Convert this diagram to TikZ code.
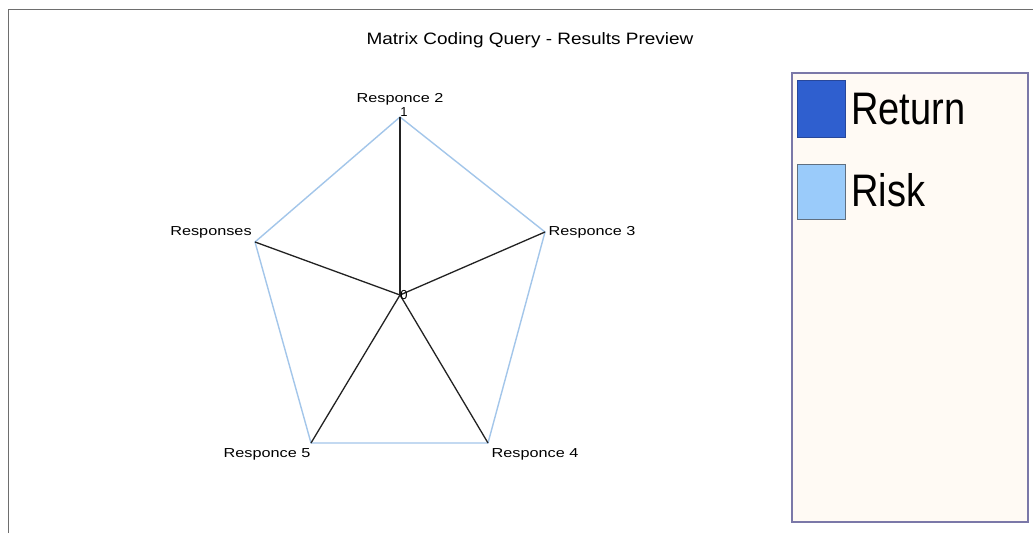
\documentclass[tikz,border=0pt]{standalone}
\usepackage{fontspec}
\setmainfont{Liberation Sans}
\definecolor{framegray}{HTML}{6E6E6E}
\definecolor{pentblue}{HTML}{A3C6EA}
\definecolor{legfill}{HTML}{FFFAF4}
\definecolor{legborder}{HTML}{7B78A8}
\definecolor{retfill}{HTML}{2F5FCF}
\definecolor{retborder}{HTML}{28479A}
\definecolor{riskfill}{HTML}{9ACBFA}
\definecolor{riskborder}{HTML}{5F6F80}
\definecolor{spokegray}{HTML}{222222}
\tikzset{
  axislabel/.style={font=\fontsize{13}{15}\selectfont, inner sep=0pt, text=black},
  ticklabel/.style={font=\fontsize{13}{15}\selectfont, inner sep=0pt},
  spoke/.style={draw=spokegray, line width=1.3pt},
  pent/.style={draw=pentblue, line width=1.4pt},
  legtext/.style={font=\fontsize{38}{44}\selectfont, inner sep=0pt, anchor=west},
}
\newcommand{\wide}[1]{\scalebox{1.25}[1]{#1}}
\begin{document}
\begin{tikzpicture}[x=1pt,y=1pt]
\useasboundingbox (0,0) rectangle (1033,533);
\fill[white] (0,0) rectangle (1033,533);
% frame
\draw[framegray, line width=1.8pt] (8.5,0) -- (8.5,523.5) -- (1033,523.5);
% title
\node[font=\fontsize{16.5}{19}\selectfont, inner sep=0pt] (title) at (530,493) {\scalebox{1.15}[1]{Matrix Coding Query - Results Preview}};
% radar
\coordinate (c) at (400,238);
\coordinate (v1) at (400,416);
\coordinate (v2) at (545,301);
\coordinate (v3) at (488,90);
\coordinate (v4) at (311,90);
\coordinate (v5) at (255,291);
\draw[pent] (v1) -- (v2) -- (v3) -- (v4) -- (v5) -- cycle;
\foreach \v in {v1,v2,v3,v4,v5} \draw[spoke] (c) -- (\v);
\node[axislabel] (l1) at (400,434) {\wide{Responce 2}};
\node[axislabel] (l2) at (592,301) {\wide{Responce 3}};
\node[axislabel] (l3) at (535,79) {\wide{Responce 4}};
\node[axislabel] (l4) at (267,79) {\wide{Responce 5}};
\node[axislabel] (l5) at (211,301) {\wide{Responses}};
\node[ticklabel] (t1) at (404,421) {1};
\node[ticklabel] (t0) at (404,238) {0};
% legend
\draw[legborder, fill=legfill, line width=1.5pt] (792,11) rectangle (1028,460);
\node[draw=retborder, fill=retfill, line width=1pt, minimum width=48pt, minimum height=57pt, inner sep=0pt] (sret) at (821,423.5) {};
\node[draw=riskborder, fill=riskfill, line width=1pt, minimum width=48pt, minimum height=55pt, inner sep=0pt] (srisk) at (821,340.5) {};
\node[legtext] (tret) at (851,424) {\scalebox{1}[1.2]{Return}};
\node[legtext] (trisk) at (851,343) {\scalebox{1}[1.2]{Risk}};
\end{tikzpicture}
\end{document}
